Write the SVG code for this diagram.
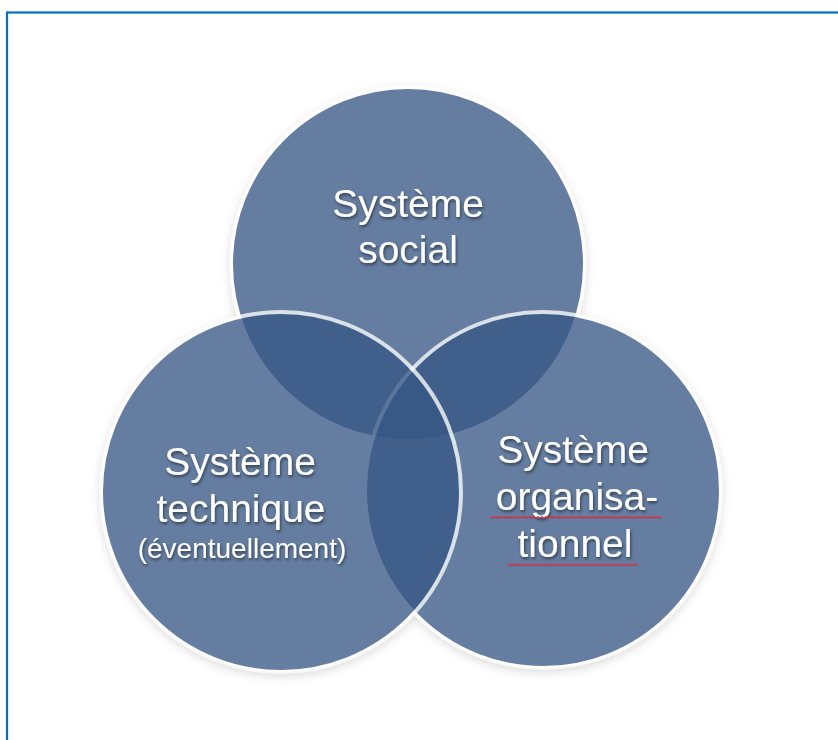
<svg xmlns="http://www.w3.org/2000/svg" width="838" height="740" viewBox="0 0 838 740">
<defs>
<style>
.ring{fill:#365784;stroke:#ffffff;stroke-width:4;opacity:0.77}
.lbl{font-family:"Liberation Sans",Arial,sans-serif;fill:#ffffff;text-anchor:middle;filter:url(#ts)}
.big{font-size:39px}
.small{font-size:28px}
</style>
<pattern id="sq" x="0" y="0" width="4" height="3" patternUnits="userSpaceOnUse">
<path d="M0 2.3 L2 0.7 L4 2.3" fill="none" stroke="#d8283a" stroke-width="1.2"/>
</pattern>
<filter id="sh" x="-20%" y="-20%" width="140%" height="140%">
<feGaussianBlur in="SourceAlpha" stdDeviation="6"/>
<feOffset dy="3"/>
<feComponentTransfer><feFuncA type="linear" slope="0.18"/></feComponentTransfer>
<feMerge><feMergeNode/><feMergeNode in="SourceGraphic"/></feMerge>
</filter>
<filter id="ts" x="-10%" y="-30%" width="120%" height="160%">
<feGaussianBlur in="SourceAlpha" stdDeviation="1.5"/>
<feOffset dx="1" dy="1.5"/>
<feComponentTransfer><feFuncA type="linear" slope="0.5"/></feComponentTransfer>
<feMerge><feMergeNode/><feMergeNode in="SourceGraphic"/></feMerge>
</filter>
</defs>
<rect x="0" y="0" width="838" height="740" fill="#ffffff"/>
<rect x="7" y="12.5" width="860" height="760" fill="none" stroke="#0070c0" stroke-width="2.2"/>
<g id="shadows" filter="url(#sh)">
<circle cx="408" cy="264" r="177" fill="#ffffff"/>
<circle cx="543" cy="490" r="178" fill="#ffffff"/>
<circle cx="281" cy="492" r="180" fill="#ffffff"/>
</g>
<g id="social">
<circle class="ring" cx="408" cy="264" r="177"/>
</g>
<g id="organisationnel">
<circle class="ring" cx="543" cy="490" r="178"/>
</g>
<g id="technique">
<circle class="ring" cx="281" cy="492" r="180"/>
</g>
<g id="labels">
<text class="lbl big" x="408" y="217">Système</text>
<text class="lbl big" x="408" y="263">social</text>
<text class="lbl big" x="240" y="475">Système</text>
<text class="lbl big" x="241" y="522">technique</text>
<text class="lbl small" x="242" y="558">(éventuellement)</text>
<text class="lbl big" x="573" y="463">Système</text>
<text class="lbl big" x="577" y="510">organisa-</text>
<text class="lbl big" x="575" y="557">tionnel</text>
<rect x="490" y="516" width="172" height="3" fill="url(#sq)"/>
<rect x="508" y="563" width="130" height="3" fill="url(#sq)"/>
</g>
</svg>
